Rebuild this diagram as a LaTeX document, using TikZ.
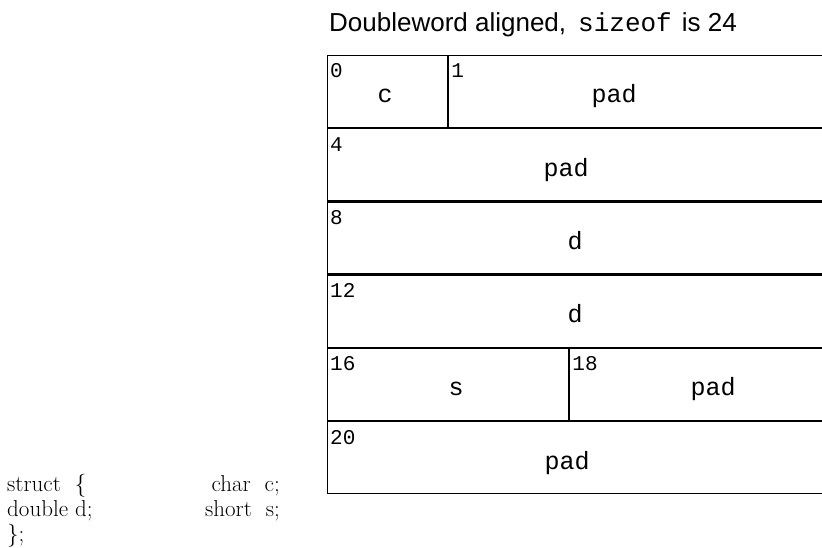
\documentclass[tikz,border=0pt]{standalone}
\usepackage{fontspec}
\newfontfamily\headfont{Liberation Sans}
\newfontfamily\cellfont{Liberation Mono}
\usetikzlibrary{calc}
\usetikzlibrary{positioning}
\tikzstyle{cellbox} = [draw, rectangle, anchor=north west, minimum height=72pt, inner sep=0pt, line width=1.2pt]
\tikzstyle{offsetnum} = [anchor=base west, inner sep=0pt, font=\cellfont\fontsize{21}{21}\selectfont]
\tikzstyle{fieldname} = [anchor=base, inner sep=0pt, font=\cellfont\fontsize{25}{25}\selectfont]
\tikzstyle{codeline} = [inner sep=0pt, font=\fontsize{23}{25}\selectfont]

\begin{document}
\begin{tikzpicture}[x=1pt, y=-1pt]
\useasboundingbox (0,0) rectangle (822,548);
\clip (0,0) rectangle (822,548);
\node[anchor=base west, inner sep=0pt, font=\headfont\fontsize{26}{26}\selectfont] (title) at (329,32) {Doubleword aligned,\hspace{12pt}{\cellfont\fontsize{26}{26}\selectfont sizeof}\hspace{10pt}is 24};

\node[cellbox, minimum width=120pt] (c0) at (327,55) {};
\node[cellbox, minimum width=400pt] (pad1) at (c0.north east) {};
\node[cellbox, minimum width=520pt] (pad4) at (c0.south west) {};
\node[cellbox, minimum width=520pt] (d8) at (pad4.south west) {};
\node[cellbox, minimum width=520pt] (d12) at (d8.south west) {};
\node[cellbox, minimum width=241pt] (s16) at (d12.south west) {};
\node[cellbox, minimum width=280pt] (pad18) at (s16.north east) {};
\node[cellbox, minimum width=520pt] (pad20) at (s16.south west) {};

\node[offsetnum] (o0) at ($(c0.north west)+(3,23)$) {0};
\node[offsetnum] (o1) at ($(pad1.north west)+(3,23)$) {1};
\node[offsetnum] (o4) at ($(pad4.north west)+(3,23)$) {4};
\node[offsetnum] (o8) at ($(d8.north west)+(3,23)$) {8};
\node[offsetnum] (o12) at ($(d12.north west)+(3,23)$) {12};
\node[offsetnum] (o16) at ($(s16.north west)+(3,23)$) {16};
\node[offsetnum] (o18) at ($(pad18.north west)+(3,23)$) {18};
\node[offsetnum] (o20) at ($(pad20.north west)+(3,23)$) {20};

\node[fieldname] (f_c) at ($(c0.north west)+(58,48)$) {c};
\node[fieldname] (f_pad1) at ($(pad1.north west)+(166,48)$) {pad};
\node[fieldname] (f_pad4) at ($(pad4.north west)+(239,48)$) {pad};
\node[fieldname] (f_d8) at ($(d8.north west)+(248,48)$) {d};
\node[fieldname] (f_d12) at ($(d12.north west)+(248,48)$) {d};
\node[fieldname] (f_s) at ($(s16.north west)+(129,48)$) {s};
\node[fieldname] (f_pad18) at ($(pad18.north west)+(144,48)$) {pad};
\node[fieldname] (f_pad20) at ($(pad20.north west)+(240,48)$) {pad};

\node[codeline, anchor=base west] (open) at (7,491) {struct\ \ \{};
\node[codeline, anchor=base west] (dbl) at (7,516) {double d;};
\node[codeline, anchor=base west] (close) at (7,541) {\};};
\node[codeline, anchor=base east] (chr) at (280,491) {char\ \ c;};
\node[codeline, anchor=base east] (shrt) at (280,516) {short\ \ s;};
\end{tikzpicture}
\end{document}
